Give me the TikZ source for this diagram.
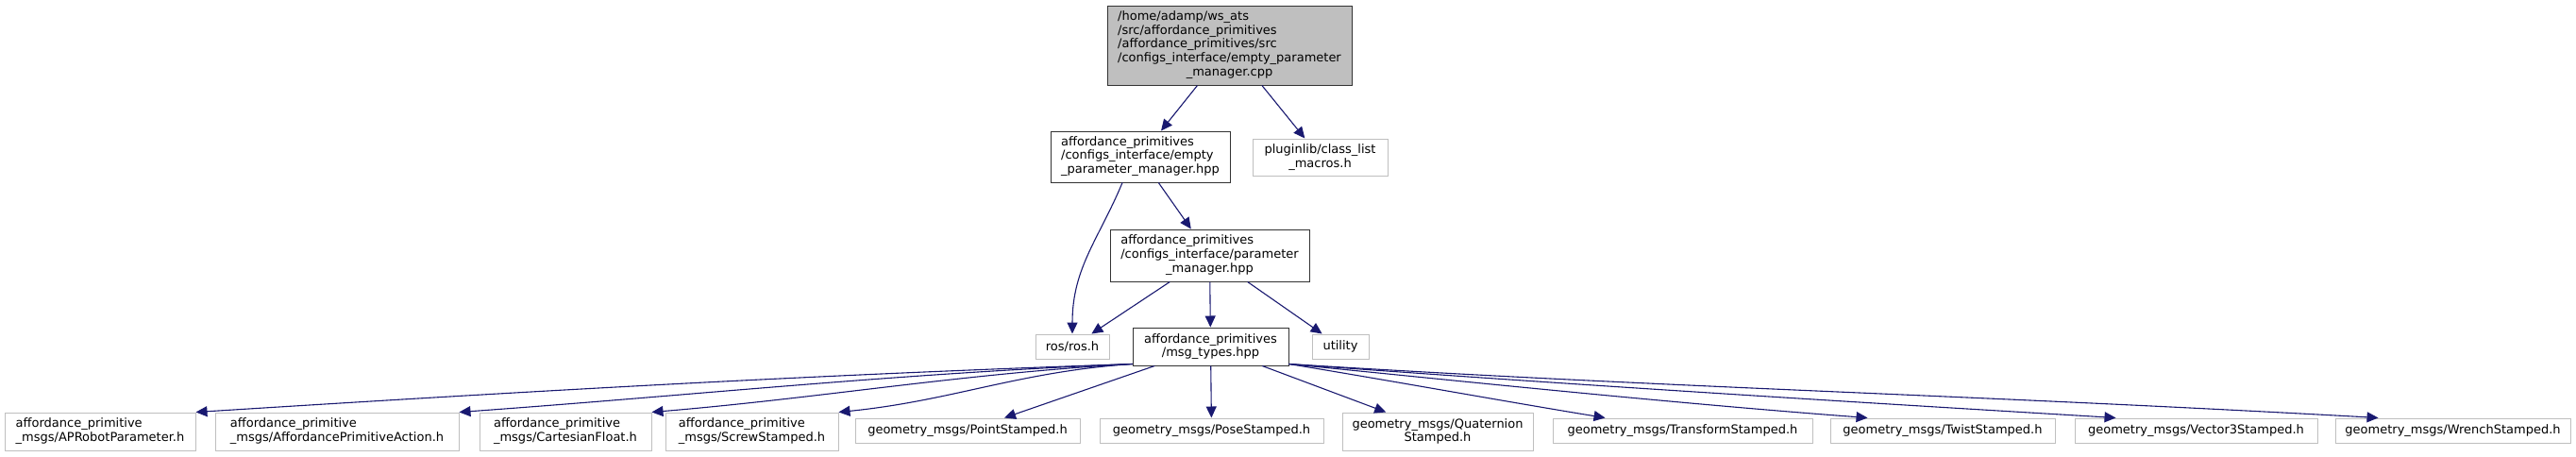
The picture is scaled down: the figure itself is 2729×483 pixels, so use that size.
\documentclass[tikz,border=0pt]{standalone}
\usepackage{fontspec}
\setmainfont{DejaVu Sans}
\usetikzlibrary{arrows.meta}
\definecolor{edgeblue}{HTML}{191970}
\definecolor{grey75}{HTML}{BFBFBF}
% left-justified label lines, with an optional centred line
\newcommand{\leftlines}[1]{\begin{tabular}{@{}l@{}}#1\end{tabular}}
\newcommand{\ctrline}[1]{\multicolumn{1}{@{}c@{}}{#1}}

\begin{document}
\begin{tikzpicture}[x=1pt, y=-1pt,
    every node/.style={font=\fontsize{13}{14.7}\selectfont, inner sep=0pt, align=center, line width=1pt},
    srcfile/.style={draw=black!80, fill=grey75},
    docfile/.style={draw=black!80, fill=white},
    extfile/.style={draw=grey75, fill=white},
    incl/.style={-{Triangle[length=12pt, width=11pt]}, line width=1.1pt, edgeblue},
]
    \useasboundingbox (0,0) rectangle (2729,483);

    \node[srcfile, minimum width=259pt, minimum height=84pt] (cpp) at (1302.5, 48)
        {\leftlines{/home/adamp/ws\_ats\\ /src/affordance\_primitives\\ /affordance\_primitives/src\\ /configs\_interface/empty\_parameter\\ \ctrline{\_manager.cpp}}};

    \node[docfile, minimum width=190pt, minimum height=54pt] (emph) at (1208, 166)
        {\leftlines{affordance\_primitives\\ /configs\_interface/empty\\ \_parameter\_manager.hpp}};
    \node[extfile, minimum width=143pt, minimum height=39pt] (plug) at (1398.5, 166.5)
        {pluginlib/class\_list\\ \_macros.h};

    \node[docfile, minimum width=211pt, minimum height=55pt] (parm) at (1281.5, 270.5)
        {\leftlines{affordance\_primitives\\ /configs\_interface/parameter\\ \ctrline{\_manager.hpp}}};

    \node[extfile, minimum width=78pt, minimum height=26pt] (ros) at (1136, 367) {ros/ros.h};
    \node[docfile, minimum width=165pt, minimum height=40pt] (msg) at (1282.5, 367)
        {affordance\_primitives\\ /msg\_types.hpp};
    \node[extfile, minimum width=60pt, minimum height=26pt] (util) at (1420, 367) {utility};

    % bottom row
    \node[extfile, minimum width=202pt, minimum height=40pt] (aprobot) at (106, 457)
        {\leftlines{affordance\_primitive\\ \_msgs/APRobotParameter.h}};
    \node[extfile, minimum width=258pt, minimum height=40pt] (action) at (357, 457)
        {\leftlines{affordance\_primitive\\ \_msgs/AffordancePrimitiveAction.h}};
    \node[extfile, minimum width=182pt, minimum height=40pt] (cartesian) at (599, 457)
        {\leftlines{affordance\_primitive\\ \_msgs/CartesianFloat.h}};
    \node[extfile, minimum width=183pt, minimum height=40pt] (screw) at (796.5, 457)
        {\leftlines{affordance\_primitive\\ \_msgs/ScrewStamped.h}};
    \node[extfile, minimum width=238pt, minimum height=26pt] (point) at (1025, 456) {geometry\_msgs/PointStamped.h};
    \node[extfile, minimum width=237pt, minimum height=26pt] (pose) at (1283.5, 456) {geometry\_msgs/PoseStamped.h};
    \node[extfile, minimum width=202pt, minimum height=40pt] (quat) at (1523, 457)
        {geometry\_msgs/Quaternion\\ Stamped.h};
    \node[extfile, minimum width=275pt, minimum height=26pt] (transform) at (1782.5, 456) {geometry\_msgs/TransformStamped.h};
    \node[extfile, minimum width=238pt, minimum height=26pt] (twist) at (2058, 456) {geometry\_msgs/TwistStamped.h};
    \node[extfile, minimum width=257pt, minimum height=26pt] (vector3) at (2326.5, 456) {geometry\_msgs/Vector3Stamped.h};
    \node[extfile, minimum width=249pt, minimum height=26pt] (wrench) at (2598.5, 456) {geometry\_msgs/WrenchStamped.h};

    \draw[incl] (cpp) -- (emph);
    \draw[incl] (cpp) -- (plug);
    \draw[incl] ([xshift=-19pt]emph.south) .. controls +(-25,60) and +(0,-70) .. (ros.north);
    \draw[incl] (emph) -- (parm);
    \draw[incl] (parm) -- (ros);
    \draw[incl] (parm) -- (msg);
    \draw[incl] (parm) -- (util);

    % includes of msg_types.hpp
    \draw[incl] ([yshift=2pt]msg.south west) .. controls +(-350,12) and +(350,-22) .. (aprobot.north east);
    \draw[incl] ([yshift=2pt]msg.south west) .. controls +(-250,10) and +(250,-18) .. (action.north east);
    \draw[incl] ([yshift=2pt]msg.south west) .. controls +(-180,10) and +(180,-15) .. (cartesian.north east);
    \draw[incl] ([yshift=2pt]msg.south west) .. controls +(-120,8) and +(120,-12) .. (screw.north east);
    \draw[incl] (msg) -- (point);
    \draw[incl] (msg) -- (pose);
    \draw[incl] (msg) -- (quat);
    \draw[incl] ([yshift=2pt]msg.south east) .. controls +(110,18) and +(-110,-18) .. ([xshift=56pt]transform.north west);
    \draw[incl] ([yshift=2pt]msg.south east) .. controls +(200,20) and +(-200,-15) .. ([xshift=40pt]twist.north west);
    \draw[incl] ([yshift=2pt]msg.south east) .. controls +(300,22) and +(-300,-18) .. ([xshift=44pt]vector3.north west);
    \draw[incl] ([yshift=2pt]msg.south east) .. controls +(400,25) and +(-450,-25) .. ([xshift=46pt]wrench.north west);
\end{tikzpicture}
\end{document}
